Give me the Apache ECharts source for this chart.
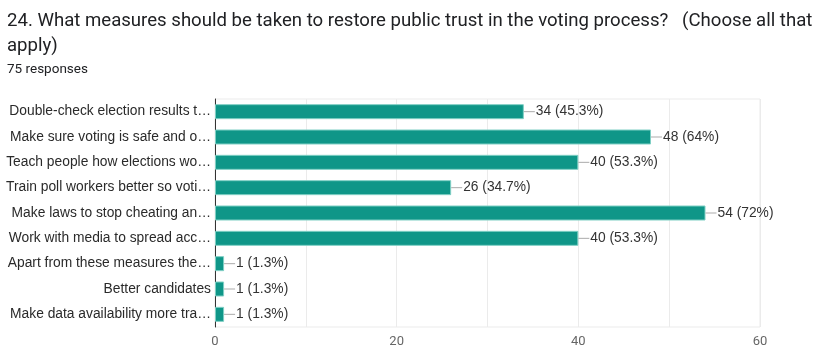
<!DOCTYPE html>
<html><head><meta charset="utf-8">
<script src="https://cdn.jsdelivr.net/npm/echarts@6/dist/echarts.min.js"></script>
<style>html,body{margin:0;padding:0;background:#fff}#c{width:820px;height:349px}</style>
</head><body><div id="c"></div>
<script>
const titleLine1 = "24. What measures should be taken to restore public trust in the voting process?   (Choose all that";
const titleLine2 = "apply)";
const subtitle = "75 responses";
const categories = [
  "Double-check election results t…",
  "Make sure voting is safe and o…",
  "Teach people how elections wo…",
  "Train poll workers better so voti…",
  "Make laws to stop cheating an…",
  "Work with media to spread acc…",
  "Apart from these measures the…",
  "Better candidates",
  "Make data availability more tra…"
];
const counts = [34, 48, 40, 26, 54, 40, 1, 1, 1];
const percents = ["45.3%", "64%", "53.3%", "34.7%", "72%", "53.3%", "1.3%", "1.3%", "1.3%"];
const xTicks = [0, 20, 40, 60];

const chart = echarts.init(document.getElementById('c'), null, {renderer: 'canvas'});
chart.setOption({
  animation: false,
  backgroundColor: '#fff',
  title: [
    {text: titleLine1 + "\n" + titleLine2, left: 7, top: 9, padding: 0,
     textStyle: {fontFamily: 'Roboto', fontSize: 18.6, fontWeight: 'normal', color: '#202124', lineHeight: 25}},
    {text: subtitle, left: 7, top: 63, padding: 0,
     textStyle: {fontFamily: 'Roboto', fontSize: 13.5, fontWeight: 'normal', color: '#202124'}}
  ],
  grid: {left: 215, right: 60, top: 99, bottom: 22, containLabel: false,
         show: true, borderColor: '#ebebeb', borderWidth: 1},
  xAxis: {
    type: 'value', min: 0, max: 60, interval: 10,
    axisLine: {show: false}, axisTick: {show: false},
    splitLine: {show: true, lineStyle: {color: '#ebebeb', width: 1}},
    axisLabel: {
      color: '#666', fontFamily: 'Roboto', fontSize: 13, margin: 8,
      formatter: v => xTicks.indexOf(v) >= 0 ? String(v) : ''
    }
  },
  yAxis: {
    type: 'category', data: categories, inverse: true,
    axisLine: {show: true, lineStyle: {color: '#333', width: 1}},
    axisTick: {show: false},
    splitLine: {show: false},
    axisLabel: {color: '#2a2a2a', fontFamily: 'Arial, "Liberation Sans", sans-serif', fontSize: 13.8, margin: 4}
  },
  series: [{
    type: 'bar', data: counts, barWidth: 15,
    itemStyle: {color: '#0f9688', borderColor: '#7fcfc4', borderWidth: 1},
    label: {
      show: true, position: 'right', distance: 0,
      formatter: p => '{ln|}{t|' + p.value + ' (' + percents[p.dataIndex] + ')}',
      rich: {
        ln: {width: 11, height: 1, backgroundColor: '#aaa'},
        t: {color: '#333', fontFamily: 'Arial, "Liberation Sans", sans-serif', fontSize: 13.8, padding: [0, 0, 0, 1]}
      }
    }
  }]
});
</script></body></html>
